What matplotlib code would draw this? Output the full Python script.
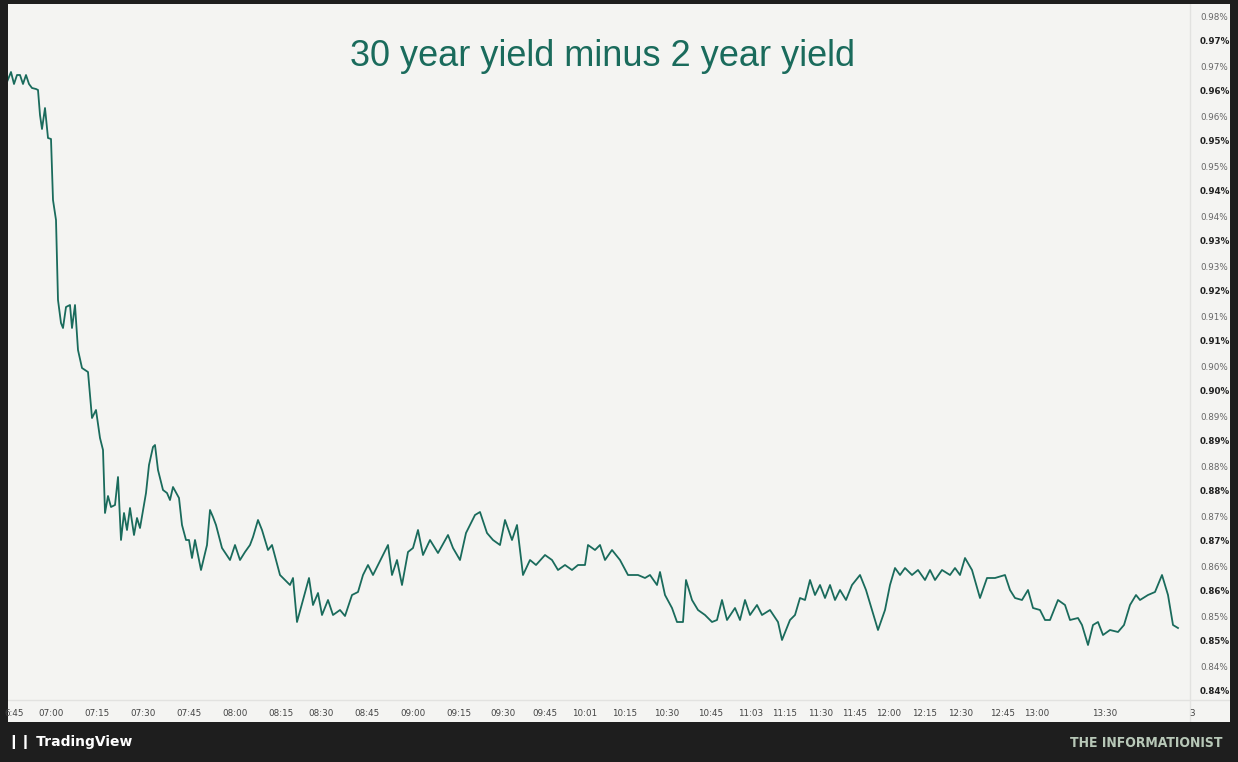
import matplotlib
matplotlib.use("Agg")
import matplotlib.pyplot as plt
import numpy as np

# bar index (chart time slots) and yield spread readings
bars = [7,11,14,17,20,23,26,29,32,36,38,40,42,45,48,51,53,56,58,61,63,66,70,72,75,78,82,88,92,96,100,103,105,108,111,115,118,121,124,127,130,134,137,140,146,149,153,155,158,163,167,170,173,179,182,186,189,192,195,201,207,210,213,216,222,230,235,240,245,250,253,258,262,268,272,280,290,293,297,303,309,313,318,322,328,333,340,345,352,358,363,368,373,388,392,397,402,408,413,418,423,430,438,448,453,460,466,475,480,487,493,500,505,512,517,523,530,536,545,552,558,565,572,578,585,588,595,600,605,612,620,628,638,645,650,657,660,665,672,677,683,686,692,698,705,712,717,722,727,735,740,745,750,757,762,770,778,782,790,795,800,805,810,815,820,825,830,835,840,846,852,860,866,872,878,885,890,895,900,905,912,918,925,930,935,942,950,955,960,965,972,980,987,995,1005,1010,1015,1022,1028,1033,1040,1045,1050,1058,1065,1070,1078,1082,1088,1093,1098,1103,1110,1118,1124,1130,1136,1140,1148,1155,1162,1168,1173,1178]
reading = [82,72,84,75,75,84,75,84,88,89,90,115,129,108,138,139,200,220,300,323,328,307,305,328,305,350,368,372,418,410,438,450,513,496,507,505,477,540,513,530,508,535,518,528,493,465,447,445,470,490,493,500,487,498,525,540,540,558,540,570,545,510,517,525,548,560,545,560,552,545,537,520,530,550,545,575,585,578,622,600,578,605,593,615,600,615,610,616,595,592,575,565,575,545,575,560,585,552,548,530,555,540,553,535,548,560,533,515,512,533,540,545,520,540,525,575,560,565,555,560,570,565,570,565,565,545,550,545,560,550,560,575,575,578,575,585,572,595,608,622,622,580,600,610,615,622,620,600,620,608,620,600,615,605,615,610,622,640,620,615,598,600,580,595,585,598,585,600,590,600,585,575,590,610,630,610,585,568,575,568,575,570,580,570,580,570,575,568,575,558,570,598,578,578,575,590,598,600,590,608,610,620,620,600,605,620,618,625,645,625,622,635,630,632,625,605,595,600,595,592,575,595,625,628]
values = [0.98 - (r - 17) * 0.14 / 675 for r in reading]  # spread in %

ytick_labels = ["0.98%","0.97%","0.97%","0.96%","0.96%","0.95%","0.95%","0.94%","0.94%","0.93%","0.93%","0.92%","0.91%","0.91%","0.90%","0.90%","0.89%","0.89%","0.88%","0.88%","0.87%","0.87%","0.86%","0.86%","0.85%","0.85%","0.84%","0.84%"]
ytick_values = [0.98 - i * 0.14 / 27 for i in range(28)]
xtick_labels = ["6:45","07:00","07:15","07:30","07:45","08:00","08:15","08:30","08:45","09:00","09:15","09:30","09:45","10:01","10:15","10:30","10:45","11:03","11:15","11:30","11:45","12:00","12:15","12:30","12:45","13:00","13:30","3"]
xtick_bars = [14,51,97,143,189,235,281,321,367,413,459,503,545,585,625,667,711,751,785,821,855,889,925,961,1003,1037,1105,1192]

W, H = 1238, 762
fig = plt.figure(figsize=(W/100, H/100), dpi=100, facecolor="#1e1e1e")
ax = fig.add_axes([8/W, 1-722/H, (1230-8)/W, (722-4)/H])
ax.set_facecolor("#f4f4f2")
def v(y): return 0.98 - (y - 17) * 0.14 / 675
ax.set_xlim(8, 1230)
ax.set_ylim(v(722), v(4))
for s in ax.spines.values():
    s.set_visible(False)
ax.set_xticks([]); ax.set_yticks([])

ax.plot(bars, values, color="#1a6b5c", lw=1.3)
ax.axvline(1190, color="#e2e2e0", lw=1)
ax.axhline(v(700), color="#e2e2e0", lw=1)

for i, (lab, yv) in enumerate(zip(ytick_labels, ytick_values)):
    bold = i % 2 == 1
    ax.text(1200, yv, lab, fontsize=6.3, va="center", ha="left",
            color="#222222" if bold else "#666666", fontweight="bold" if bold else "normal")
for lab, xb in zip(xtick_labels, xtick_bars):
    ax.text(xb, v(714), lab, fontsize=6.3, ha="center", va="center", color="#444444")

ax.text(603, v(56), "30 year yield minus 2 year yield", fontsize=26, color="#1a6b5c",
        ha="center", va="center", family="Liberation Sans")

fig.text(8/W, 1-742/H, "\u2759\u2759 TradingView", fontsize=10, color="white", va="center", fontweight="bold")
fig.text(1222/W, 1-743/H, "THE INFORMATIONIST", fontsize=10, color="#b8c8b8", va="center",
         ha="right", fontweight="bold", fontstretch="condensed")

fig.savefig("out.png", dpi=100, facecolor=fig.get_facecolor())
